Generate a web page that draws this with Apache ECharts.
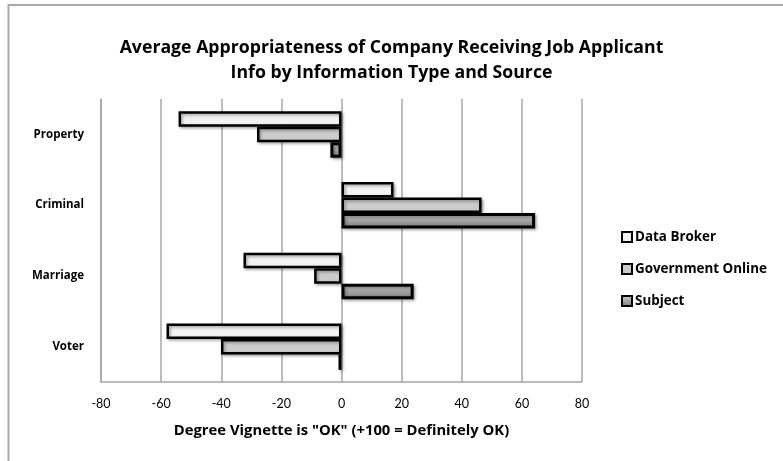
<!DOCTYPE html>
<html>
<head>
<meta charset="utf-8">
<script src="https://cdn.jsdelivr.net/npm/echarts@6/dist/echarts.min.js"></script>
<style>
html,body{margin:0;padding:0;background:#fff;}
#chart{width:783px;height:461px;}
</style>
</head>
<body>
<div id="chart"></div>
<script>
const titleLines = ['Average Appropriateness of Company Receiving Job Applicant', 'Info by Information Type and Source'];
const categories = ['Property', 'Criminal', 'Marriage', 'Voter'];
const seriesNames = ['Data Broker', 'Government Online', 'Subject'];
const dataBroker = [-54.2, 17.3, -32.6, -58.2];
const governmentOnline = [-28.1, 46.6, -9.1, -40.1];
const subject = [-3.7, 64.4, 24.0, -1.0];
const xTicks = { min: -80, max: 80, interval: 20 };
const xAxisTitle = 'Degree Vignette is "OK" (+100 = Definitely OK)';

const FONT = 'Lato';
const BFONT = 'Open Sans';
const chart = echarts.init(document.getElementById('chart'), null, { renderer: 'canvas' });

const shadow = { shadowColor: 'rgba(0,0,0,0.35)', shadowBlur: 3, shadowOffsetX: 1.5, shadowOffsetY: 1.5 };
const fills = [
  '#f2f2f2',
  '#cccccc',
  new echarts.graphic.LinearGradient(0, 0, 0, 1, [
    { offset: 0, color: '#cfcfcf' },
    { offset: 0.45, color: '#a8a8a8' },
    { offset: 1, color: '#7a7a7a' }
  ])
];
const borders = [2.5, 2.5, 3];
const values = [dataBroker, governmentOnline, subject];

chart.setOption({
  animation: false,
  backgroundColor: '#fff',
  graphic: [{
    type: 'rect',
    shape: { x: 8.5, y: 5, width: 900, height: 600 },
    style: { fill: 'none', stroke: '#a9a9a9', lineWidth: 2 },
    silent: true, z: 0
  }],
  title: {
    text: titleLines.join('\n'),
    left: 'center',
    top: 30,
    textStyle: { fontFamily: BFONT, fontWeight: 'bold', fontSize: 17.7, lineHeight: 25, color: '#000' }
  },
  legend: {
    orient: 'vertical',
    left: 616,
    top: 225,
    itemWidth: 10,
    itemHeight: 10,
    itemGap: 18,
    icon: 'rect',
    data: seriesNames,
    itemStyle: { borderColor: '#000', borderWidth: 2 },
    textStyle: { fontFamily: BFONT, fontWeight: 'bold', fontSize: 13.4, lineHeight: 14, color: '#000', padding: [0, 0, 0, -2] }
  },
  grid: { left: 101, right: 201, top: 99, bottom: 79, containLabel: false },
  xAxis: {
    type: 'value',
    min: xTicks.min, max: xTicks.max, interval: xTicks.interval,
    name: xAxisTitle,
    nameLocation: 'middle',
    nameGap: 41,
    nameTextStyle: { fontFamily: BFONT, fontWeight: 'bold', fontSize: 14.8, color: '#000' },
    axisLine: { show: true, lineStyle: { color: '#a6a6a6', width: 1.5 } },
    axisTick: { show: false },
    axisLabel: { fontFamily: FONT, fontSize: 12.5, color: '#000', margin: 15 },
    splitLine: { show: true, lineStyle: { color: '#a6a6a6', width: 1.5 } }
  },
  yAxis: {
    type: 'category',
    data: categories,
    inverse: true,
    axisLine: { show: true, onZero: false, lineStyle: { color: '#a6a6a6', width: 1.5 } },
    axisTick: { show: false },
    axisLabel: { fontFamily: BFONT, fontWeight: 'bold', fontSize: 11.5, color: '#000', margin: 17 },
    splitLine: { show: false }
  },
  series: seriesNames.map((name, i) => ({
    name: name,
    type: 'bar',
    data: values[i],
    barWidth: 15.5,
    barGap: '0%',
    itemStyle: Object.assign({ color: fills[i], borderColor: '#000', borderWidth: borders[i] }, shadow),
    emphasis: { disabled: true }
  }))
});
</script>
</body>
</html>
